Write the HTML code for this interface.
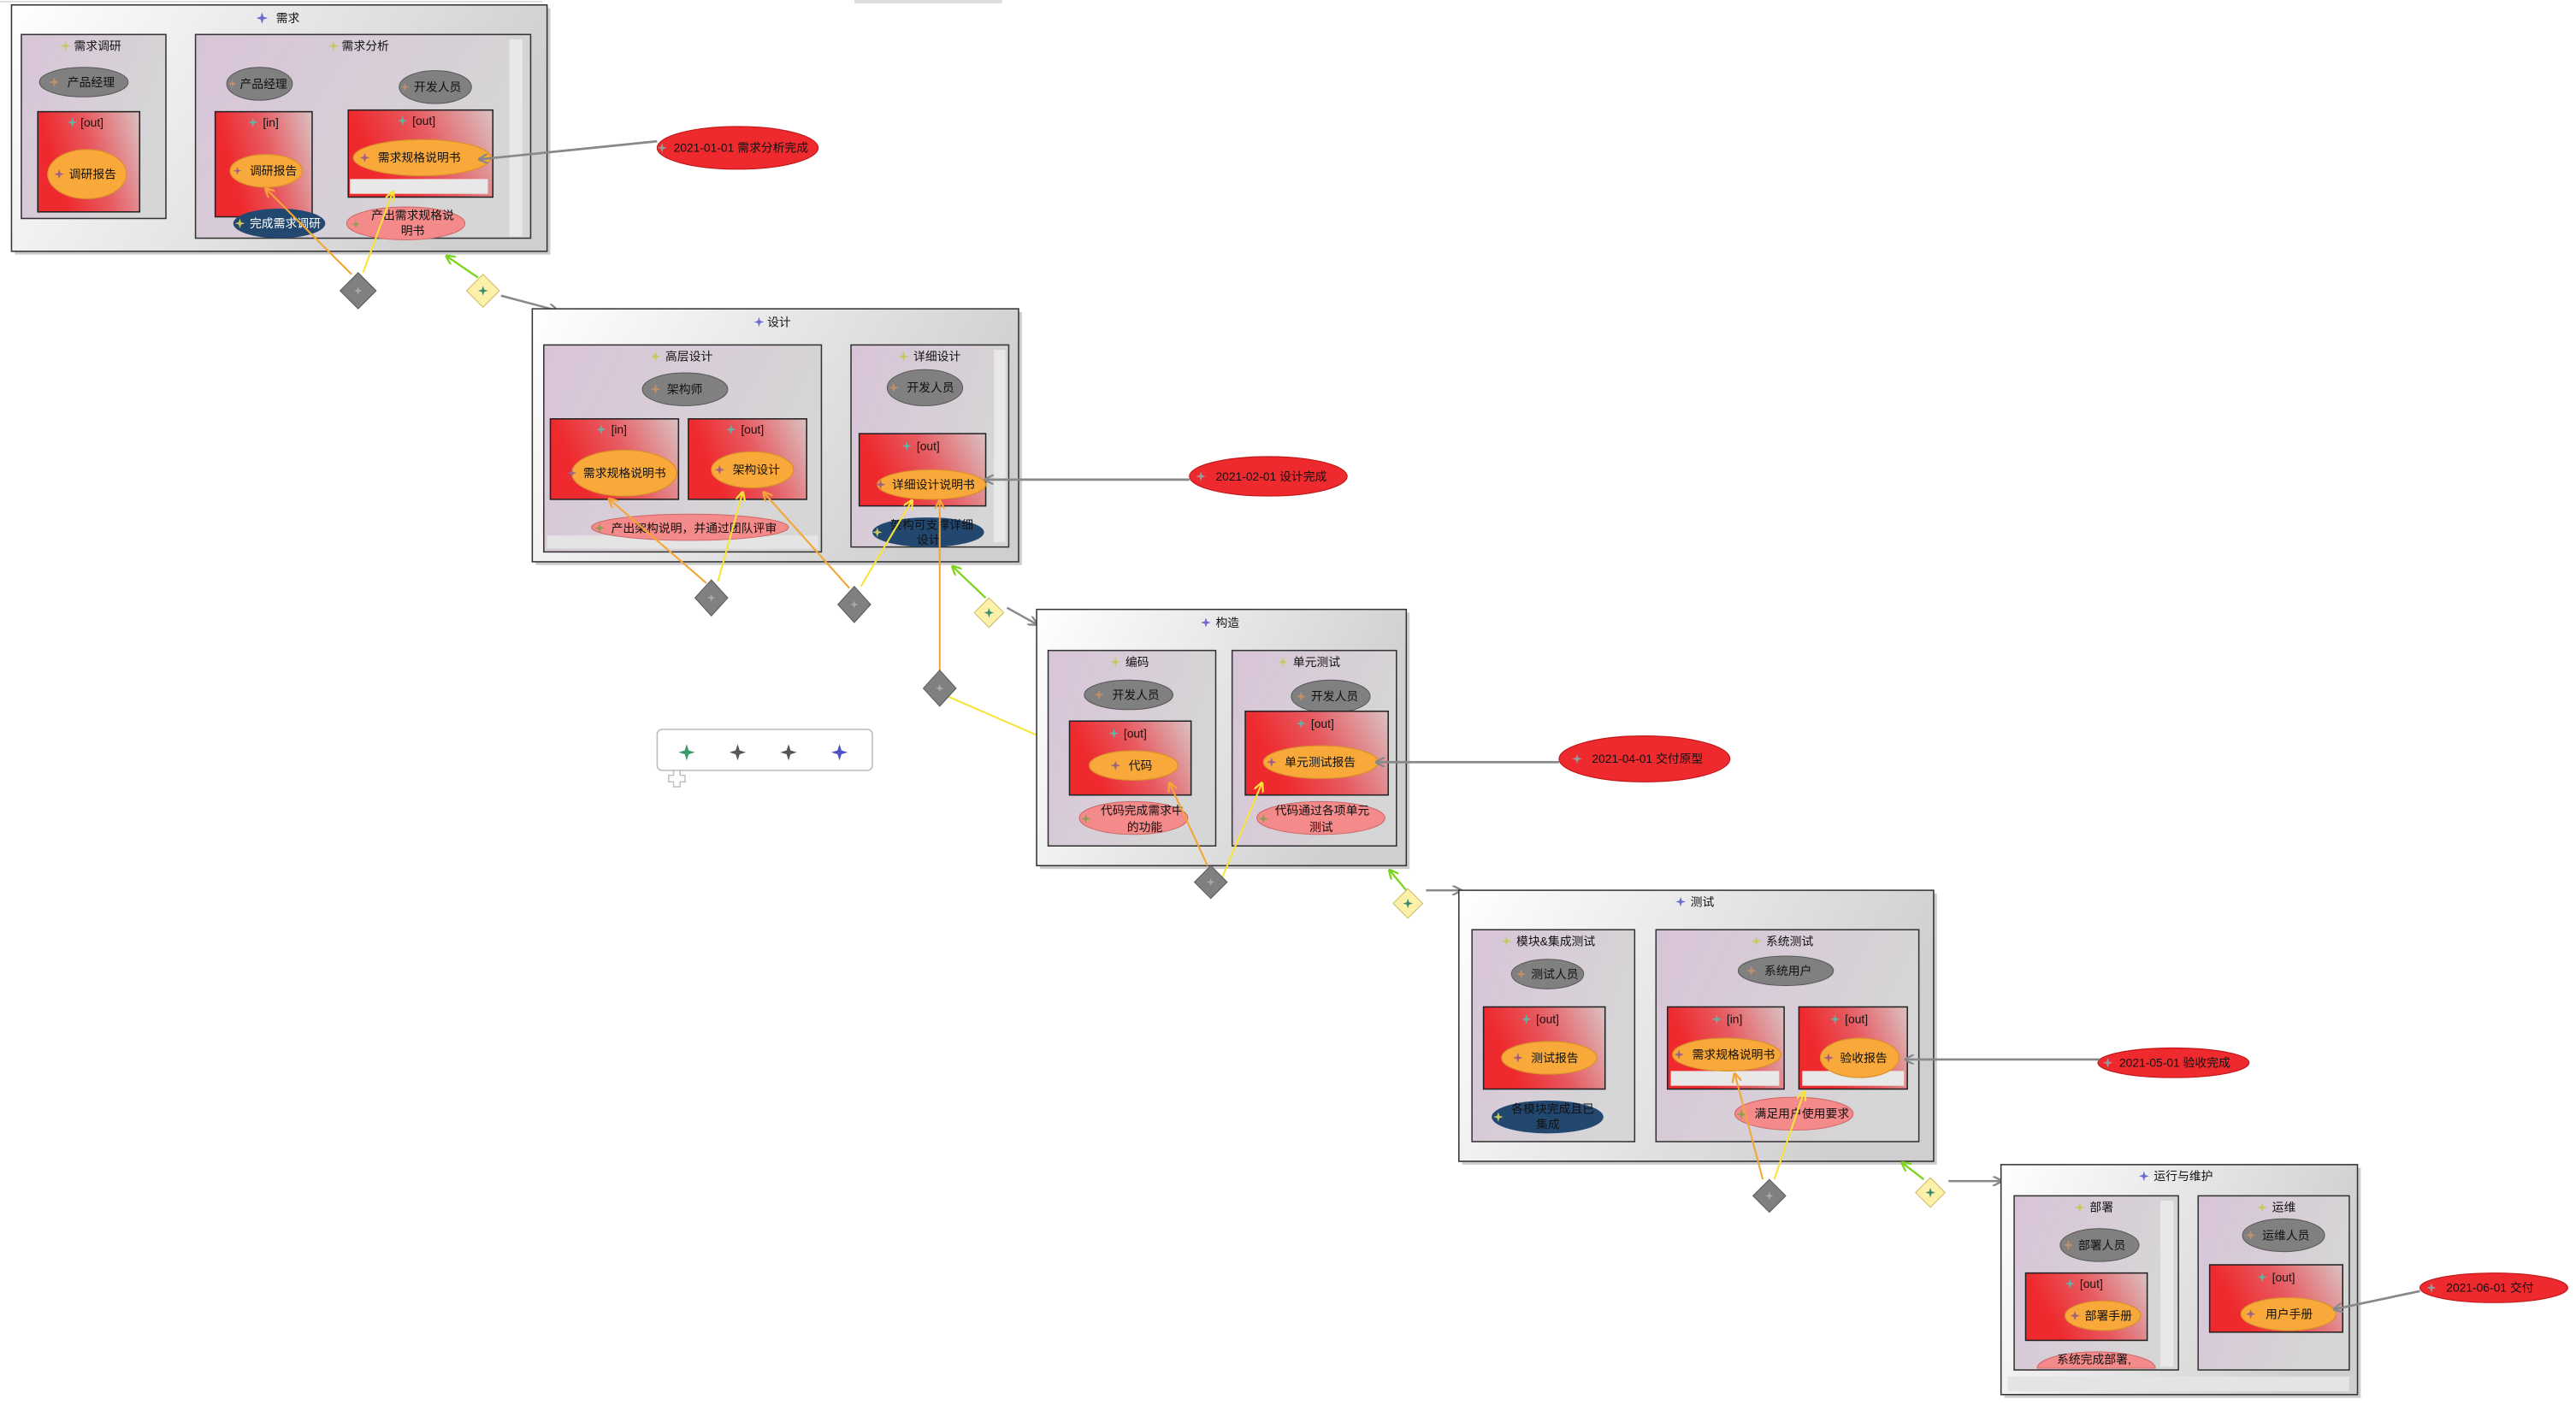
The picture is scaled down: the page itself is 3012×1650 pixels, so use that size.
<!DOCTYPE html>
<html><head><meta charset="utf-8">
<style>
html,body{margin:0;padding:0;background:#fff;}
svg{display:block;}
text{font-family:"Liberation Sans","Noto Sans CJK SC",sans-serif;font-size:7.2px;fill:#111;}
.t{text-anchor:middle;}
.w{fill:#fff;}
</style></head>
<body>
<svg width="3012" height="1650" viewBox="0 0 1568 859" preserveAspectRatio="none" xmlns="http://www.w3.org/2000/svg">
<defs>
<linearGradient id="go" x1="0" y1="0" x2="1" y2="0.3"><stop offset="0" stop-color="#ffffff"/><stop offset="1" stop-color="#cfcfcf"/></linearGradient>
<linearGradient id="gs" x1="0" y1="0" x2="1" y2="0.4"><stop offset="0" stop-color="#d8c4d8"/><stop offset="1" stop-color="#d6d6d6"/></linearGradient>
<linearGradient id="gr" x1="0" y1="0" x2="1" y2="-0.3"><stop offset="0" stop-color="#ee2a2e"/><stop offset="0.4" stop-color="#e75a60"/><stop offset="1" stop-color="#d8d2d2"/></linearGradient>
<symbol id="st" viewBox="-5 -5 10 10"><path d="M0,-5 L1.2,-1.2 L5,0 L1.2,1.2 L0,5 L-1.2,1.2 L-5,0 L-1.2,-1.2Z"/></symbol>
<marker id="ag" markerWidth="6" markerHeight="6" refX="5" refY="3" orient="auto" markerUnits="userSpaceOnUse"><path d="M0,0 L6,3 L0,6" fill="none" stroke="#888" stroke-width="1.2"/></marker>
<marker id="ao" markerWidth="6" markerHeight="6" refX="5" refY="3" orient="auto" markerUnits="userSpaceOnUse"><path d="M0,0 L6,3 L0,6" fill="none" stroke="#f5a536" stroke-width="1.2"/></marker>
<marker id="ay" markerWidth="6" markerHeight="6" refX="5" refY="3" orient="auto" markerUnits="userSpaceOnUse"><path d="M0,0 L6,3 L0,6" fill="none" stroke="#f7e43a" stroke-width="1.2"/></marker>
<marker id="aG" markerWidth="6" markerHeight="6" refX="5" refY="3" orient="auto" markerUnits="userSpaceOnUse"><path d="M0,0 L6,3 L0,6" fill="none" stroke="#7ed321" stroke-width="1.2"/></marker>
</defs>

<!-- top fragments -->
<line x1="0" y1="1" x2="330" y2="1" stroke="#ddd" stroke-width="1"/>
<rect x="520" y="0" width="90" height="2" fill="#ddd"/>

<!-- ================= 需求 ================= -->
<rect x="9" y="5" width="326" height="150" fill="#ccc"/>
<rect x="7" y="3" width="326" height="150" fill="url(#go)" stroke="#333" stroke-width="0.8"/>
<use href="#st" x="156" y="7" width="7" height="8" fill="#6a6ad0"/><text x="168" y="13.5">需求</text>

<rect x="13" y="21" width="88" height="112" fill="url(#gs)" stroke="#333" stroke-width="0.8"/>
<use href="#st" x="37" y="24" width="6" height="8" fill="#c8c860"/><text x="45" y="30.5">需求调研</text>
<ellipse cx="51" cy="50" rx="27" ry="9" fill="#808080" stroke="#555" stroke-width="0.5"/>
<use href="#st" x="30" y="47" width="6" height="6" fill="#c0906a"/><text x="41" y="52.5">产品经理</text>
<rect x="23" y="68" width="62" height="61" fill="url(#gr)" stroke="#222" stroke-width="0.8"/>
<use href="#st" x="41" y="71" width="6" height="7" fill="#6ab0a0"/><text x="49" y="77">[out]</text>
<ellipse cx="53" cy="106" rx="24" ry="15" fill="#f9a93a" stroke="#d8902a" stroke-width="0.6"/>
<use href="#st" x="33" y="103" width="6" height="6" fill="#a06080"/><text x="42" y="108.5">调研报告</text>

<rect x="119" y="21" width="204" height="124" fill="url(#gs)" stroke="#333" stroke-width="0.8"/>
<rect x="310" y="24" width="8" height="120" fill="#e8e8e8"/>
<use href="#st" x="200" y="24" width="6" height="8" fill="#c8c860"/><text x="208" y="30.5">需求分析</text>
<ellipse cx="158" cy="51" rx="20" ry="10" fill="#808080" stroke="#555" stroke-width="0.5"/>
<use href="#st" x="139" y="48" width="5" height="6" fill="#c0906a"/><text x="146" y="53.5">产品经理</text>
<ellipse cx="265" cy="53" rx="22" ry="10" fill="#808080" stroke="#555" stroke-width="0.5"/>
<use href="#st" x="244" y="50" width="5" height="6" fill="#c0906a"/><text x="252" y="55.5">开发人员</text>
<rect x="131" y="68" width="59" height="64" fill="url(#gr)" stroke="#222" stroke-width="0.8"/>
<use href="#st" x="151" y="71" width="6" height="7" fill="#6ab0a0"/><text x="160" y="77">[in]</text>
<ellipse cx="162" cy="104" rx="22" ry="10" fill="#f9a93a" stroke="#d8902a" stroke-width="0.6"/>
<use href="#st" x="142" y="101" width="5" height="6" fill="#a06080"/><text x="152" y="106.5">调研报告</text>
<rect x="212" y="67" width="88" height="53" fill="url(#gr)" stroke="#222" stroke-width="0.8"/>
<rect x="213" y="109" width="84" height="9" fill="#e8e8e8"/>
<use href="#st" x="242" y="70" width="6" height="7" fill="#6ab0a0"/><text x="251" y="76">[out]</text>
<ellipse cx="257" cy="96" rx="42" ry="11" fill="#f9a93a" stroke="#d8902a" stroke-width="0.6"/>
<use href="#st" x="219" y="93" width="6" height="6" fill="#a06080"/><text x="230" y="98.5">需求规格说明书</text>
<ellipse cx="170" cy="136" rx="28" ry="9" fill="#234870"/>
<use href="#st" x="143" y="133" width="6" height="6" fill="#c8c860"/><text x="152" y="138.5" class="w">完成需求调研</text>
<ellipse cx="247" cy="136" rx="36" ry="10" fill="#f48a8a" stroke="#c66" stroke-width="0.5"/>
<use href="#st" x="214" y="133" width="5" height="7" fill="#8aa050"/><text x="226" y="133.5">产出需求规格说</text><text x="244" y="143">明书</text>

<ellipse cx="449" cy="90" rx="49" ry="13" fill="#ee2a2e" stroke="#c01818" stroke-width="0.6"/>
<use href="#st" x="400" y="87" width="6" height="6" fill="#999"/><text x="410" y="92.5">2021-01-01 需求分析完成</text>
<line x1="400" y1="86" x2="292" y2="97" stroke="#888" stroke-width="1.4" marker-end="url(#ag)"/>

<line x1="214" y1="167" x2="162" y2="115" stroke="#f5a536" stroke-width="1.1" marker-end="url(#ao)"/>
<line x1="221" y1="166" x2="239" y2="117" stroke="#f7e43a" stroke-width="1.1" marker-end="url(#ay)"/>
<path d="M218,166 L229,177 L218,188 L207,177Z" fill="#808080" stroke="#555" stroke-width="0.5"/>
<use href="#st" x="215.5" y="174.5" width="5" height="5" fill="#aaa"/>
<line x1="291" y1="169" x2="272" y2="156" stroke="#7ed321" stroke-width="1.2" marker-end="url(#aG)"/>
<line x1="305" y1="180" x2="339" y2="189" stroke="#888" stroke-width="1.3" marker-end="url(#ag)"/>
<path d="M294,167 L304,177 L294,187 L284,177Z" fill="#fdf0a8" stroke="#c8b860" stroke-width="0.5"/>
<use href="#st" x="291" y="174" width="6" height="6" fill="#3a8a70"/>

<!-- ================= 设计 ================= -->
<rect x="326" y="190" width="296" height="154" fill="#ccc"/>
<rect x="324" y="188" width="296" height="154" fill="url(#go)" stroke="#333" stroke-width="0.8"/>
<use href="#st" x="459" y="192" width="6" height="8" fill="#6a6ad0"/><text x="467" y="198.5">设计</text>

<rect x="331" y="210" width="169" height="126" fill="url(#gs)" stroke="#333" stroke-width="0.8"/>
<rect x="333" y="326" width="165" height="8" fill="#e4e4e4"/>
<use href="#st" x="396" y="213" width="6" height="8" fill="#c8c860"/><text x="405" y="219.5">高层设计</text>
<ellipse cx="417" cy="237" rx="26" ry="10" fill="#808080" stroke="#555" stroke-width="0.5"/>
<use href="#st" x="396" y="234" width="6" height="6" fill="#c0906a"/><text x="406" y="239.5">架构师</text>
<rect x="335" y="255" width="78" height="49" fill="url(#gr)" stroke="#222" stroke-width="0.8"/>
<use href="#st" x="363" y="258" width="6" height="7" fill="#6ab0a0"/><text x="372" y="264">[in]</text>
<ellipse cx="380" cy="288" rx="32" ry="14" fill="#f9a93a" stroke="#d8902a" stroke-width="0.6"/>
<use href="#st" x="345" y="285" width="6" height="6" fill="#a06080"/><text x="355" y="290.5">需求规格说明书</text>
<rect x="419" y="255" width="72" height="49" fill="url(#gr)" stroke="#222" stroke-width="0.8"/>
<use href="#st" x="442" y="258" width="6" height="7" fill="#6ab0a0"/><text x="451" y="264">[out]</text>
<ellipse cx="458" cy="286" rx="25" ry="11" fill="#f9a93a" stroke="#d8902a" stroke-width="0.6"/>
<use href="#st" x="435" y="283" width="6" height="6" fill="#a06080"/><text x="446" y="288.5">架构设计</text>
<ellipse cx="420" cy="321" rx="60" ry="8" fill="#f48a8a" stroke="#c66" stroke-width="0.5"/>
<use href="#st" x="362" y="318" width="6" height="7" fill="#8aa050"/><text x="372" y="324">产出架构说明，并通过团队评审</text>

<rect x="518" y="210" width="96" height="123" fill="url(#gs)" stroke="#333" stroke-width="0.8"/>
<rect x="605" y="213" width="7" height="117" fill="#e8e8e8"/>
<use href="#st" x="547" y="213" width="6" height="8" fill="#c8c860"/><text x="556" y="219.5">详细设计</text>
<ellipse cx="563" cy="236" rx="23" ry="11" fill="#808080" stroke="#555" stroke-width="0.5"/>
<use href="#st" x="541" y="233" width="6" height="6" fill="#c0906a"/><text x="552" y="238.5">开发人员</text>
<rect x="523" y="264" width="77" height="44" fill="url(#gr)" stroke="#222" stroke-width="0.8"/>
<use href="#st" x="549" y="268" width="6" height="7" fill="#6ab0a0"/><text x="558" y="274">[out]</text>
<ellipse cx="567" cy="295" rx="33" ry="9" fill="#f9a93a" stroke="#d8902a" stroke-width="0.6"/>
<use href="#st" x="533" y="292" width="6" height="6" fill="#a06080"/><text x="543" y="297.5">详细设计说明书</text>
<ellipse cx="565" cy="324" rx="34" ry="9" fill="#234870"/>
<use href="#st" x="531" y="321" width="6" height="6" fill="#c8c860"/><text x="542" y="322">架构可支撑详细</text><text x="558" y="331">设计</text>

<ellipse cx="772" cy="290" rx="48" ry="12" fill="#ee2a2e" stroke="#c01818" stroke-width="0.6"/>
<use href="#st" x="728" y="287" width="6" height="6" fill="#999"/><text x="740" y="292.5">2021-02-01 设计完成</text>
<line x1="724" y1="292" x2="600" y2="292" stroke="#888" stroke-width="1.4" marker-end="url(#ag)"/>

<line x1="430" y1="355" x2="371" y2="304" stroke="#f5a536" stroke-width="1.1" marker-end="url(#ao)"/>
<line x1="437" y1="354" x2="452" y2="300" stroke="#f7e43a" stroke-width="1.1" marker-end="url(#ay)"/>
<path d="M433,353 L443,364 L433,375 L423,364Z" fill="#808080" stroke="#555" stroke-width="0.5"/>
<use href="#st" x="430.5" y="361.5" width="5" height="5" fill="#aaa"/>
<line x1="517" y1="358" x2="465" y2="300" stroke="#f5a536" stroke-width="1.1" marker-end="url(#ao)"/>
<line x1="524" y1="357" x2="555" y2="305" stroke="#f7e43a" stroke-width="1.1" marker-end="url(#ay)"/>
<path d="M520,357 L530,368 L520,379 L510,368Z" fill="#808080" stroke="#555" stroke-width="0.5"/>
<use href="#st" x="517.5" y="365.5" width="5" height="5" fill="#aaa"/>
<line x1="572" y1="409" x2="572" y2="305" stroke="#f5a536" stroke-width="1.1" marker-end="url(#ao)"/>
<line x1="577" y1="424" x2="662" y2="461" stroke="#f7e43a" stroke-width="1.1" marker-end="url(#ay)"/>
<path d="M572,408 L582,419 L572,430 L562,419Z" fill="#808080" stroke="#555" stroke-width="0.5"/>
<use href="#st" x="569.5" y="416.5" width="5" height="5" fill="#aaa"/>
<line x1="600" y1="364" x2="580" y2="345" stroke="#7ed321" stroke-width="1.2" marker-end="url(#aG)"/>
<line x1="613" y1="370" x2="631" y2="380" stroke="#888" stroke-width="1.3" marker-end="url(#ag)"/>
<path d="M602,364 L611,373 L602,382 L593,373Z" fill="#fdf0a8" stroke="#c8b860" stroke-width="0.5"/>
<use href="#st" x="599" y="370" width="6" height="6" fill="#3a8a70"/>

<!-- legend -->
<rect x="400" y="444" width="131" height="25" rx="3" fill="#fff" stroke="#bbb" stroke-width="0.8"/>
<use href="#st" x="413" y="453" width="10" height="10" fill="#3a9a6a"/>
<use href="#st" x="444" y="453" width="10" height="10" fill="#555"/>
<use href="#st" x="475" y="453" width="10" height="10" fill="#555"/>
<use href="#st" x="506" y="453" width="10" height="10" fill="#5050c8"/>
<path d="M410,469 h4 v3 h3 v4 h-3 v3 h-4 v-3 h-3 v-4 h3Z" fill="#fff" stroke="#bbb" stroke-width="0.7"/>

<!-- ================= 构造 ================= -->
<rect x="633" y="373" width="225" height="156" fill="#ccc"/>
<rect x="631" y="371" width="225" height="156" fill="url(#go)" stroke="#333" stroke-width="0.8"/>
<use href="#st" x="731" y="375" width="6" height="8" fill="#6a6ad0"/><text x="740" y="381.5">构造</text>

<rect x="638" y="396" width="102" height="119" fill="url(#gs)" stroke="#333" stroke-width="0.8"/>
<use href="#st" x="676" y="399" width="6" height="8" fill="#c8c860"/><text x="685" y="405.5">编码</text>
<ellipse cx="687" cy="423" rx="27" ry="9" fill="#808080" stroke="#555" stroke-width="0.5"/>
<use href="#st" x="666" y="420" width="6" height="6" fill="#c0906a"/><text x="677" y="425.5">开发人员</text>
<rect x="651" y="439" width="74" height="45" fill="url(#gr)" stroke="#222" stroke-width="0.8"/>
<use href="#st" x="675" y="443" width="6" height="7" fill="#6ab0a0"/><text x="684" y="449">[out]</text>
<ellipse cx="690" cy="466" rx="27" ry="9" fill="#f9a93a" stroke="#d8902a" stroke-width="0.6"/>
<use href="#st" x="676" y="463" width="6" height="6" fill="#a06080"/><text x="687" y="468.5">代码</text>
<ellipse cx="690" cy="498" rx="33" ry="10" fill="#f48a8a" stroke="#c66" stroke-width="0.5"/>
<use href="#st" x="658" y="495" width="6" height="7" fill="#8aa050"/><text x="670" y="496">代码完成需求中</text><text x="686" y="506">的功能</text>

<rect x="750" y="396" width="100" height="119" fill="url(#gs)" stroke="#333" stroke-width="0.8"/>
<use href="#st" x="778" y="399" width="6" height="8" fill="#c8c860"/><text x="787" y="405.5">单元测试</text>
<ellipse cx="810" cy="424" rx="24" ry="10" fill="#808080" stroke="#555" stroke-width="0.5"/>
<use href="#st" x="789" y="421" width="6" height="6" fill="#c0906a"/><text x="798" y="426.5">开发人员</text>
<rect x="758" y="433" width="87" height="51" fill="url(#gr)" stroke="#222" stroke-width="0.8"/>
<use href="#st" x="789" y="437" width="6" height="7" fill="#6ab0a0"/><text x="798" y="443">[out]</text>
<ellipse cx="804" cy="464" rx="35" ry="10" fill="#f9a93a" stroke="#d8902a" stroke-width="0.6"/>
<use href="#st" x="771" y="461" width="6" height="6" fill="#a06080"/><text x="782" y="466.5">单元测试报告</text>
<ellipse cx="804" cy="498" rx="39" ry="10" fill="#f48a8a" stroke="#c66" stroke-width="0.5"/>
<use href="#st" x="766" y="495" width="6" height="7" fill="#8aa050"/><text x="776" y="496">代码通过各项单元</text><text x="797" y="506">测试</text>

<ellipse cx="1001" cy="462" rx="52" ry="14" fill="#ee2a2e" stroke="#c01818" stroke-width="0.6"/>
<use href="#st" x="957" y="459" width="6" height="6" fill="#999"/><text x="969" y="464.5">2021-04-01 交付原型</text>
<line x1="949" y1="464" x2="838" y2="464" stroke="#888" stroke-width="1.4" marker-end="url(#ag)"/>

<line x1="735" y1="527" x2="712" y2="477" stroke="#f5a536" stroke-width="1.1" marker-end="url(#ao)"/>
<line x1="742" y1="539" x2="768" y2="477" stroke="#f7e43a" stroke-width="1.1" marker-end="url(#ay)"/>
<path d="M737,527 L747,537 L737,547 L727,537Z" fill="#808080" stroke="#555" stroke-width="0.5"/>
<use href="#st" x="734.5" y="534.5" width="5" height="5" fill="#aaa"/>
<line x1="856" y1="542" x2="846" y2="530" stroke="#7ed321" stroke-width="1.2" marker-end="url(#aG)"/>
<line x1="868" y1="542" x2="889" y2="542" stroke="#888" stroke-width="1.3" marker-end="url(#ag)"/>
<path d="M857,541 L866,550 L857,559 L848,550Z" fill="#fdf0a8" stroke="#c8b860" stroke-width="0.5"/>
<use href="#st" x="854" y="547" width="6" height="6" fill="#3a8a70"/>

<!-- ================= 测试 ================= -->
<rect x="890" y="544" width="289" height="165" fill="#ccc"/>
<rect x="888" y="542" width="289" height="165" fill="url(#go)" stroke="#333" stroke-width="0.8"/>
<use href="#st" x="1020" y="545" width="6" height="8" fill="#6a6ad0"/><text x="1029" y="551.5">测试</text>

<rect x="896" y="566" width="99" height="129" fill="url(#gs)" stroke="#333" stroke-width="0.8"/>
<use href="#st" x="914" y="569" width="6" height="8" fill="#c8c860"/><text x="923" y="575.5">模块&amp;集成测试</text>
<ellipse cx="942" cy="593" rx="22" ry="9" fill="#808080" stroke="#555" stroke-width="0.5"/>
<use href="#st" x="923" y="590" width="6" height="6" fill="#c0906a"/><text x="932" y="595.5">测试人员</text>
<rect x="903" y="613" width="74" height="50" fill="url(#gr)" stroke="#222" stroke-width="0.8"/>
<use href="#st" x="926" y="617" width="6" height="7" fill="#6ab0a0"/><text x="935" y="623">[out]</text>
<ellipse cx="943" cy="644" rx="29" ry="10" fill="#f9a93a" stroke="#d8902a" stroke-width="0.6"/>
<use href="#st" x="921" y="641" width="6" height="6" fill="#a06080"/><text x="932" y="646.5">测试报告</text>
<ellipse cx="942" cy="680" rx="34" ry="10" fill="#234870"/>
<use href="#st" x="909" y="677" width="6" height="6" fill="#c8c860"/><text x="920" y="677.5">各模块完成且已</text><text x="935" y="687">集成</text>

<rect x="1008" y="566" width="160" height="129" fill="url(#gs)" stroke="#333" stroke-width="0.8"/>
<use href="#st" x="1066" y="569" width="6" height="8" fill="#c8c860"/><text x="1075" y="575.5">系统测试</text>
<ellipse cx="1087" cy="591" rx="29" ry="9" fill="#808080" stroke="#555" stroke-width="0.5"/>
<use href="#st" x="1063" y="588" width="6" height="6" fill="#c0906a"/><text x="1074" y="593.5">系统用户</text>
<rect x="1015" y="613" width="71" height="50" fill="url(#gr)" stroke="#222" stroke-width="0.8"/>
<rect x="1017" y="652" width="66" height="9" fill="#e8e8e8"/>
<use href="#st" x="1042" y="617" width="6" height="7" fill="#6ab0a0"/><text x="1051" y="623">[in]</text>
<ellipse cx="1051" cy="642" rx="33" ry="10" fill="#f9a93a" stroke="#d8902a" stroke-width="0.6"/>
<use href="#st" x="1019" y="639" width="6" height="6" fill="#a06080"/><text x="1030" y="644.5">需求规格说明书</text>
<rect x="1095" y="613" width="66" height="50" fill="url(#gr)" stroke="#222" stroke-width="0.8"/>
<rect x="1097" y="652" width="62" height="9" fill="#e8e8e8"/>
<use href="#st" x="1114" y="617" width="6" height="7" fill="#6ab0a0"/><text x="1123" y="623">[out]</text>
<ellipse cx="1132" cy="644" rx="24" ry="12" fill="#f9a93a" stroke="#d8902a" stroke-width="0.6"/>
<use href="#st" x="1110" y="641" width="6" height="6" fill="#a06080"/><text x="1120" y="646.5">验收报告</text>
<ellipse cx="1092" cy="678" rx="36" ry="10" fill="#f48a8a" stroke="#c66" stroke-width="0.5"/>
<use href="#st" x="1057" y="675" width="6" height="7" fill="#8aa050"/><text x="1068" y="680.5">满足用户使用要求</text>

<ellipse cx="1323" cy="647" rx="46" ry="9" fill="#ee2a2e" stroke="#c01818" stroke-width="0.6"/>
<use href="#st" x="1280" y="644" width="6" height="6" fill="#999"/><text x="1290" y="649.5">2021-05-01 验收完成</text>
<line x1="1278" y1="645" x2="1160" y2="645" stroke="#888" stroke-width="1.4" marker-end="url(#ag)"/>

<line x1="1073" y1="718" x2="1056" y2="654" stroke="#f5a536" stroke-width="1.1" marker-end="url(#ao)"/>
<line x1="1080" y1="718" x2="1098" y2="665" stroke="#f7e43a" stroke-width="1.1" marker-end="url(#ay)"/>
<path d="M1077,718 L1087,728 L1077,738 L1067,728Z" fill="#808080" stroke="#555" stroke-width="0.5"/>
<use href="#st" x="1074.5" y="725.5" width="5" height="5" fill="#aaa"/>
<line x1="1171" y1="718" x2="1158" y2="708" stroke="#7ed321" stroke-width="1.2" marker-end="url(#aG)"/>
<line x1="1186" y1="719" x2="1218" y2="719" stroke="#888" stroke-width="1.3" marker-end="url(#ag)"/>
<path d="M1175,717 L1184,726 L1175,735 L1166,726Z" fill="#fdf0a8" stroke="#c8b860" stroke-width="0.5"/>
<use href="#st" x="1172" y="723" width="6" height="6" fill="#3a8a70"/>

<!-- ================= 运行与维护 ================= -->
<rect x="1220" y="711" width="217" height="140" fill="#ccc"/>
<rect x="1218" y="709" width="217" height="140" fill="url(#go)" stroke="#333" stroke-width="0.8"/>
<rect x="1222" y="838" width="208" height="9" fill="#e4e4e4"/>
<use href="#st" x="1302" y="712" width="6" height="8" fill="#6a6ad0"/><text x="1311" y="718.5">运行与维护</text>

<rect x="1226" y="728" width="100" height="106" fill="url(#gs)" stroke="#333" stroke-width="0.8"/>
<rect x="1315" y="731" width="8" height="101" fill="#e8e8e8"/>
<use href="#st" x="1263" y="731" width="6" height="8" fill="#c8c860"/><text x="1272" y="737.5">部署</text>
<ellipse cx="1278" cy="758" rx="24" ry="10" fill="#808080" stroke="#555" stroke-width="0.5"/>
<use href="#st" x="1256" y="755" width="6" height="6" fill="#c0906a"/><text x="1265" y="760.5">部署人员</text>
<rect x="1233" y="775" width="74" height="41" fill="url(#gr)" stroke="#222" stroke-width="0.8"/>
<use href="#st" x="1257" y="778" width="6" height="7" fill="#6ab0a0"/><text x="1266" y="784">[out]</text>
<ellipse cx="1280" cy="801" rx="23" ry="9" fill="#f9a93a" stroke="#d8902a" stroke-width="0.6"/>
<use href="#st" x="1260" y="798" width="6" height="6" fill="#a06080"/><text x="1269" y="803.5">部署手册</text>
<path d="M1240,833 A36,10 0 0 1 1312,833 Z" fill="#f48a8a" stroke="#c66" stroke-width="0.5"/>
<text x="1252" y="830">系统完成部署,</text>

<rect x="1338" y="728" width="92" height="106" fill="url(#gs)" stroke="#333" stroke-width="0.8"/>
<use href="#st" x="1374" y="731" width="6" height="8" fill="#c8c860"/><text x="1383" y="737.5">运维</text>
<ellipse cx="1390" cy="752" rx="25" ry="10" fill="#808080" stroke="#555" stroke-width="0.5"/>
<use href="#st" x="1367" y="749" width="6" height="6" fill="#c0906a"/><text x="1377" y="754.5">运维人员</text>
<rect x="1345" y="770" width="81" height="41" fill="url(#gr)" stroke="#222" stroke-width="0.8"/>
<use href="#st" x="1374" y="774" width="6" height="7" fill="#6ab0a0"/><text x="1383" y="780">[out]</text>
<ellipse cx="1393" cy="800" rx="29" ry="10" fill="#f9a93a" stroke="#d8902a" stroke-width="0.6"/>
<use href="#st" x="1367" y="797" width="6" height="6" fill="#a06080"/><text x="1379" y="802.5">用户手册</text>

<ellipse cx="1518" cy="784" rx="45" ry="9" fill="#ee2a2e" stroke="#c01818" stroke-width="0.6"/>
<use href="#st" x="1477" y="781" width="6" height="6" fill="#999"/><text x="1489" y="786.5">2021-06-01 交付</text>
<line x1="1473" y1="786" x2="1421" y2="797" stroke="#888" stroke-width="1.4" marker-end="url(#ag)"/>
</svg>
</body></html>
